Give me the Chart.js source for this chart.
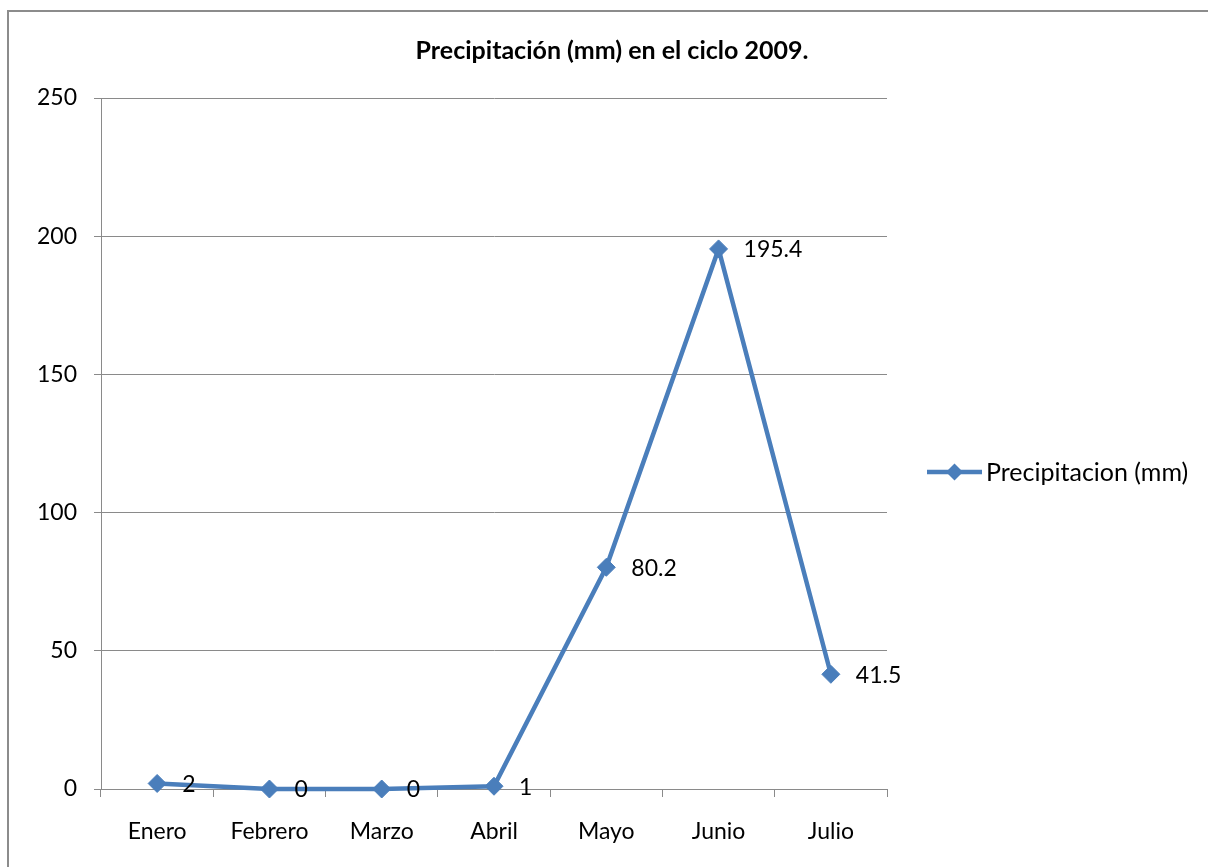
<!DOCTYPE html>
<html>
<head>
<meta charset="utf-8">
<script src="https://cdn.jsdelivr.net/npm/chart.js@4/dist/chart.umd.min.js"></script>
<style>
  html, body { margin: 0; padding: 0; background: #fff; }
  #c { display: block; }
</style>
</head>
<body>
<canvas id="c" width="1208" height="867"></canvas>
<script>
// Monthly rainfall, 2009 season
const months = ['Enero', 'Febrero', 'Marzo', 'Abril', 'Mayo', 'Junio', 'Julio'];
const rainfall = [2, 0, 0, 1, 80.2, 195.4, 41.5];
const seriesName = 'Precipitacion (mm)';
const chartTitle = 'Precipitación (mm) en el ciclo 2009.';
const yMin = 0, yMax = 250, yStep = 50;

const FONT = 'Lato';
const LINE_BLUE = '#4a7ebb';
const GRID = '#8a8a8a';

// Outer frame, title, legend and value labels
const decorations = {
  id: 'decorations',
  afterDatasetsDraw(chart) {
    const ctx = chart.ctx;
    const ds = chart.data.datasets[0];
    const meta = chart.getDatasetMeta(0);
    ctx.save();
    ctx.fillStyle = '#000';
    ctx.font = '23px ' + FONT;
    ctx.textAlign = 'left';
    ctx.textBaseline = 'middle';
    meta.data.forEach((pt, i) => {
      ctx.fillText(String(ds.data[i]), pt.x + 25, pt.y + 1);
    });
    ctx.restore();
  },
  afterDraw(chart) {
    const ctx = chart.ctx;
    const ds = chart.data.datasets[0];
    ctx.save();
    // frame
    ctx.strokeStyle = '#8c8c8c';
    ctx.lineWidth = 2;
    ctx.strokeRect(8, 11, 1260, 900);
    // title
    ctx.fillStyle = '#000';
    ctx.font = 'bold 25px ' + FONT;
    ctx.textAlign = 'center';
    ctx.textBaseline = 'middle';
    ctx.fillText(chartTitle, 612, 51);
    // legend
    const ly = 472;
    ctx.strokeStyle = ds.borderColor;
    ctx.lineWidth = 4.5;
    ctx.beginPath();
    ctx.moveTo(927, ly);
    ctx.lineTo(982, ly);
    ctx.stroke();
    ctx.fillStyle = ds.borderColor;
    ctx.beginPath();
    ctx.moveTo(954.5, ly - 8.5);
    ctx.lineTo(963, ly);
    ctx.lineTo(954.5, ly + 8.5);
    ctx.lineTo(946, ly);
    ctx.closePath();
    ctx.fill();
    ctx.fillStyle = '#000';
    ctx.font = '25px ' + FONT;
    ctx.textAlign = 'left';
    ctx.fillText(ds.label, 986, ly + 1);
    ctx.restore();
  }
};

new Chart(document.getElementById('c'), {
  type: 'line',
  data: {
    labels: months,
    datasets: [{
      label: seriesName,
      data: rainfall,
      borderColor: LINE_BLUE,
      backgroundColor: LINE_BLUE,
      borderWidth: 4.5,
      tension: 0,
      pointStyle: 'rectRot',
      pointRadius: 9,
      pointBorderWidth: 1,
      pointBackgroundColor: LINE_BLUE,
      pointBorderColor: LINE_BLUE,
      clip: false
    }]
  },
  options: {
    responsive: false,
    animation: false,
    layout: { padding: { top: 98, left: 8, right: 321, bottom: 0 } },
    plugins: {
      legend: { display: false },
      title: { display: false },
      tooltip: { enabled: false }
    },
    scales: {
      x: {
        offset: true,
        afterFit(scale) { scale.height = 78; },
        grid: {
          offset: true,
          drawOnChartArea: false,
          drawTicks: true,
          tickLength: 8,
          color: GRID,
          lineWidth: 1
        },
        border: { display: true, color: GRID, width: 1 },
        ticks: {
          color: '#000',
          padding: 21,
          font: { family: FONT, size: 23 },
          maxRotation: 0
        }
      },
      y: {
        min: yMin,
        max: yMax,
        afterFit(scale) { scale.width = 93; },
        grid: {
          color: GRID,
          lineWidth: 1,
          drawTicks: true,
          tickLength: 7
        },
        border: { display: true, color: GRID, width: 1 },
        ticks: {
          stepSize: yStep,
          color: '#000',
          padding: 17,
          font: { family: FONT, size: 23 }
        }
      }
    }
  },
  plugins: [decorations]
});
</script>
</body>
</html>
